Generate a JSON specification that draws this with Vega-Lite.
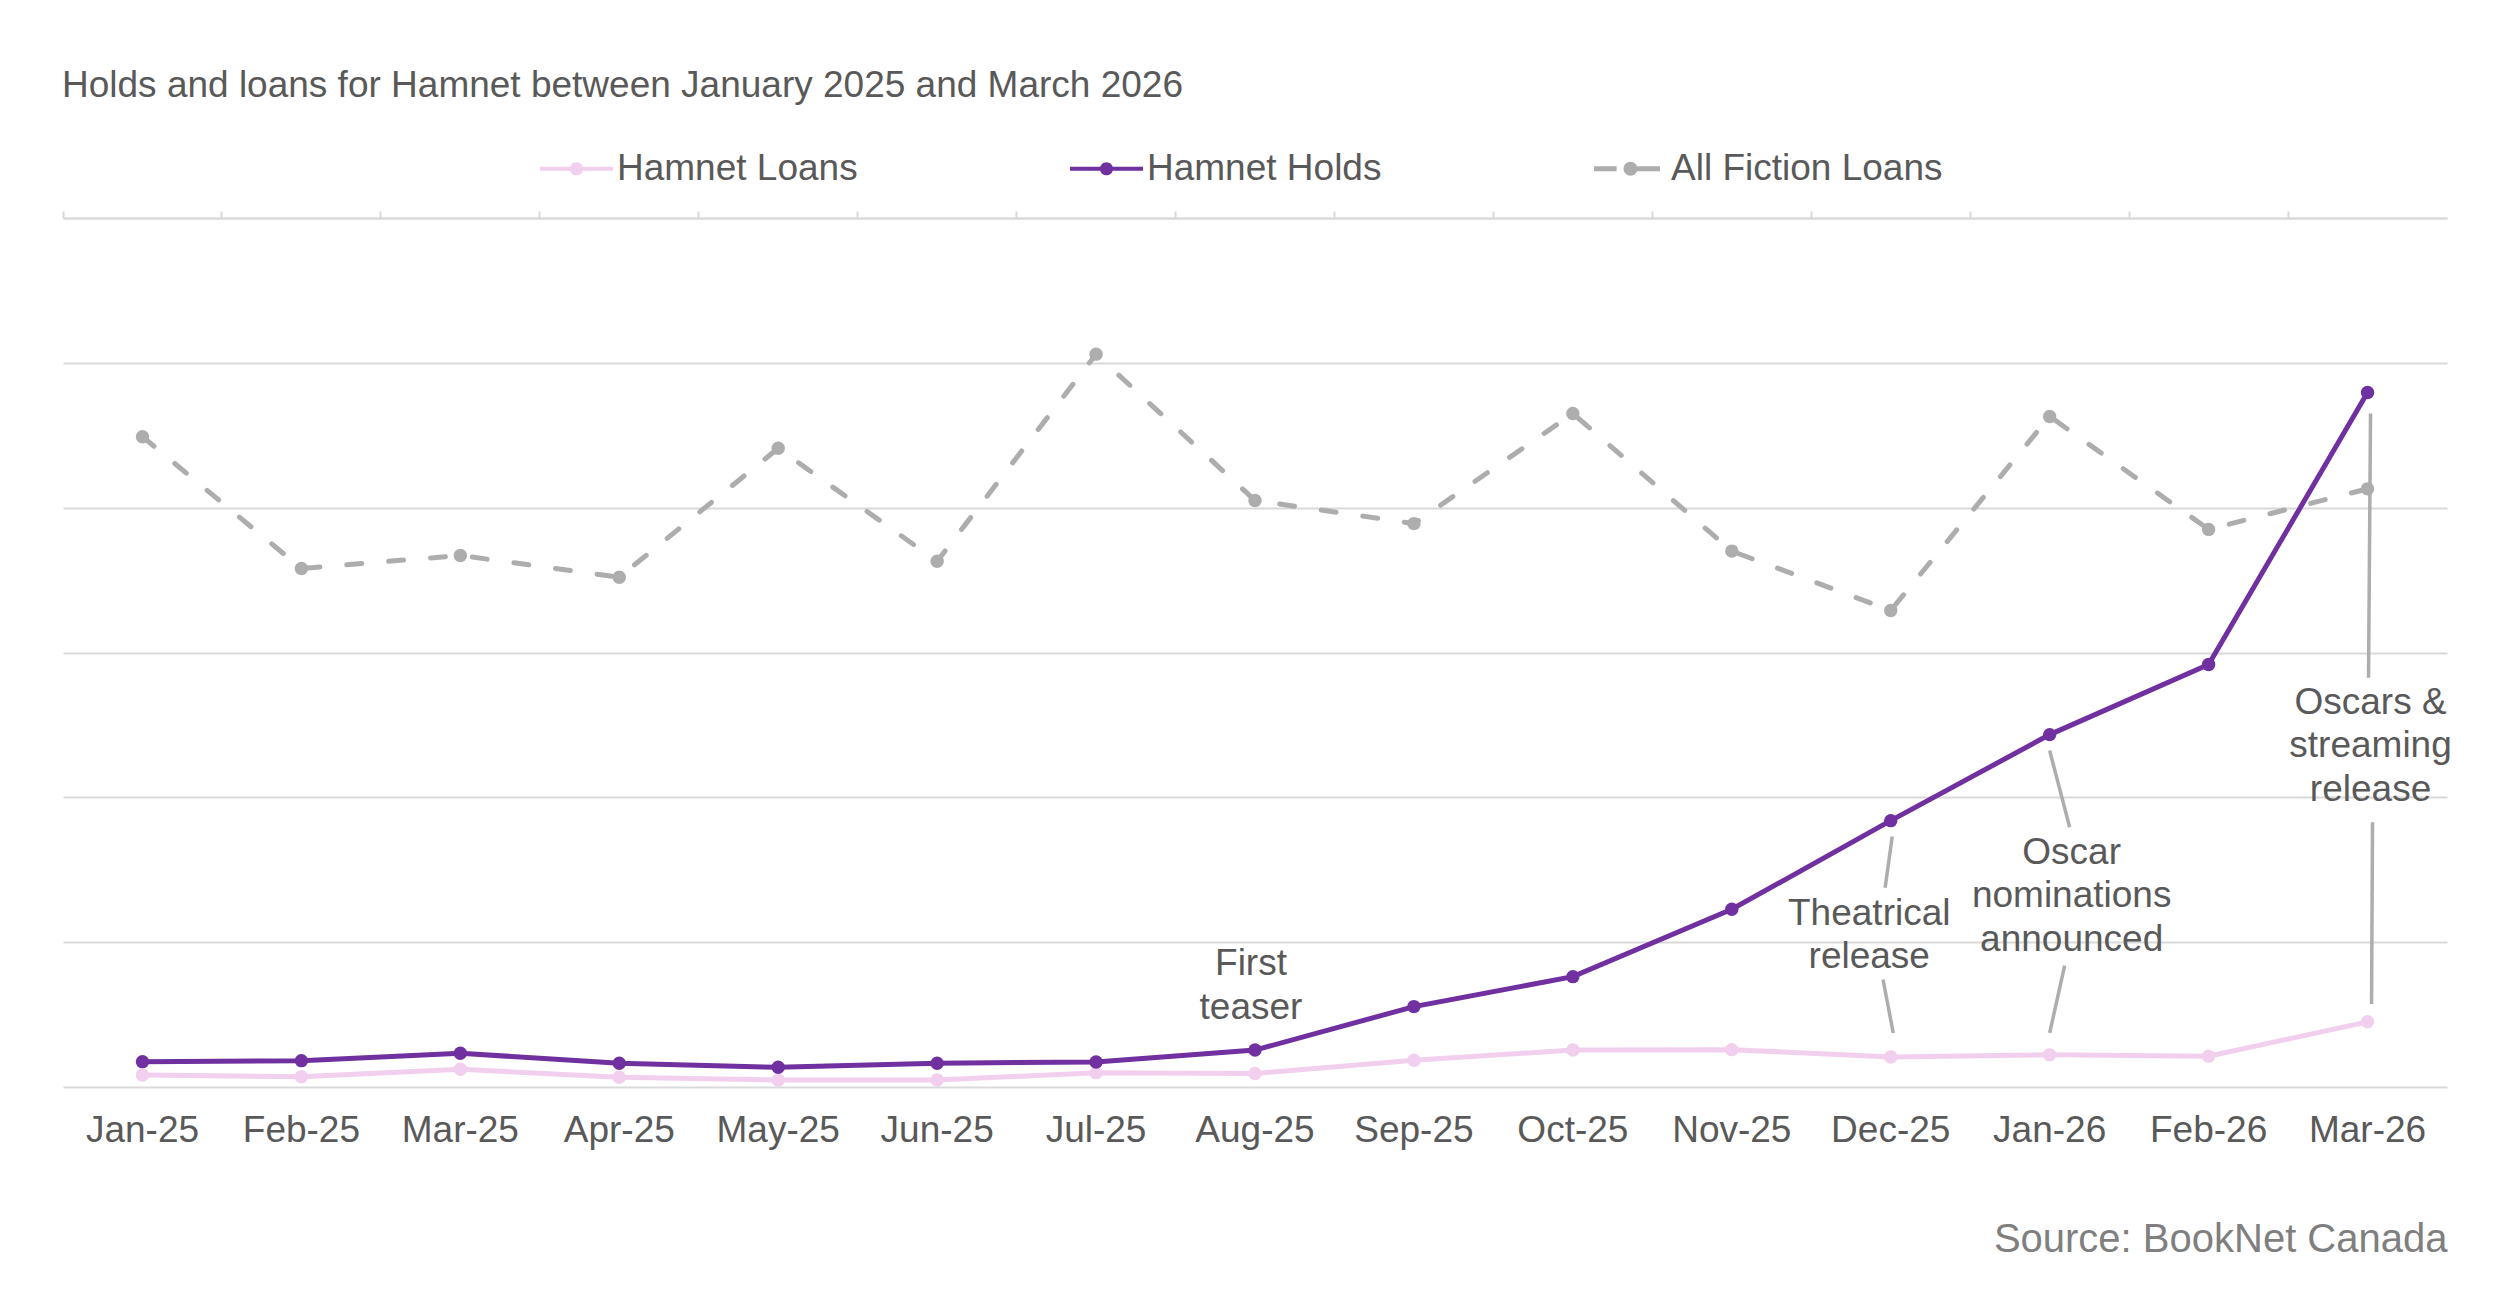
{
  "$schema": "https://vega.github.io/schema/vega-lite/v6.json",
  "width": 2384,
  "height": 869,
  "autosize": {"type": "none"},
  "padding": {"left": 63, "top": 218, "right": 53, "bottom": 206},
  "background": "white",
  "title": {
    "text": "Holds and loans for Hamnet between January 2025 and March 2026",
    "anchor": "start",
    "fontSize": 37,
    "fontWeight": "normal",
    "color": "#595959",
    "offset": 27
  },
  "config": {
    "font": "Liberation Sans",
    "view": {"stroke": null}
  },
  "datasets": {
    "monthly": [
      {"month": "Jan-25", "series": "All Fiction Loans", "value": 4.49},
      {"month": "Feb-25", "series": "All Fiction Loans", "value": 3.58},
      {"month": "Mar-25", "series": "All Fiction Loans", "value": 3.67},
      {"month": "Apr-25", "series": "All Fiction Loans", "value": 3.52},
      {"month": "May-25", "series": "All Fiction Loans", "value": 4.41},
      {"month": "Jun-25", "series": "All Fiction Loans", "value": 3.63},
      {"month": "Jul-25", "series": "All Fiction Loans", "value": 5.06},
      {"month": "Aug-25", "series": "All Fiction Loans", "value": 4.05},
      {"month": "Sep-25", "series": "All Fiction Loans", "value": 3.89},
      {"month": "Oct-25", "series": "All Fiction Loans", "value": 4.65},
      {"month": "Nov-25", "series": "All Fiction Loans", "value": 3.70},
      {"month": "Dec-25", "series": "All Fiction Loans", "value": 3.29},
      {"month": "Jan-26", "series": "All Fiction Loans", "value": 4.63},
      {"month": "Feb-26", "series": "All Fiction Loans", "value": 3.85},
      {"month": "Mar-26", "series": "All Fiction Loans", "value": 4.13},
      {"month": "Jan-25", "series": "Hamnet Loans", "value": 0.083},
      {"month": "Feb-25", "series": "Hamnet Loans", "value": 0.071},
      {"month": "Mar-25", "series": "Hamnet Loans", "value": 0.122},
      {"month": "Apr-25", "series": "Hamnet Loans", "value": 0.067},
      {"month": "May-25", "series": "Hamnet Loans", "value": 0.048},
      {"month": "Jun-25", "series": "Hamnet Loans", "value": 0.048},
      {"month": "Jul-25", "series": "Hamnet Loans", "value": 0.099},
      {"month": "Aug-25", "series": "Hamnet Loans", "value": 0.093},
      {"month": "Sep-25", "series": "Hamnet Loans", "value": 0.185},
      {"month": "Oct-25", "series": "Hamnet Loans", "value": 0.255},
      {"month": "Nov-25", "series": "Hamnet Loans", "value": 0.258},
      {"month": "Dec-25", "series": "Hamnet Loans", "value": 0.207},
      {"month": "Jan-26", "series": "Hamnet Loans", "value": 0.222},
      {"month": "Feb-26", "series": "Hamnet Loans", "value": 0.213},
      {"month": "Mar-26", "series": "Hamnet Loans", "value": 0.45},
      {"month": "Jan-25", "series": "Hamnet Holds", "value": 0.175},
      {"month": "Feb-25", "series": "Hamnet Holds", "value": 0.182},
      {"month": "Mar-25", "series": "Hamnet Holds", "value": 0.233},
      {"month": "Apr-25", "series": "Hamnet Holds", "value": 0.164},
      {"month": "May-25", "series": "Hamnet Holds", "value": 0.136},
      {"month": "Jun-25", "series": "Hamnet Holds", "value": 0.164},
      {"month": "Jul-25", "series": "Hamnet Holds", "value": 0.173},
      {"month": "Aug-25", "series": "Hamnet Holds", "value": 0.255},
      {"month": "Sep-25", "series": "Hamnet Holds", "value": 0.555},
      {"month": "Oct-25", "series": "Hamnet Holds", "value": 0.762},
      {"month": "Nov-25", "series": "Hamnet Holds", "value": 1.227},
      {"month": "Dec-25", "series": "Hamnet Holds", "value": 1.839},
      {"month": "Jan-26", "series": "Hamnet Holds", "value": 2.433},
      {"month": "Feb-26", "series": "Hamnet Holds", "value": 2.917},
      {"month": "Mar-26", "series": "Hamnet Holds", "value": 4.795}
    ]
  },
  "resolve": {"axis": {"x": "independent"}},
  "layer": [
    {
      "data": {"name": "monthly"},
      "transform": [{"filter": "datum.series === 'All Fiction Loans'"}],
      "mark": {"type": "line", "strokeWidth": 5, "strokeDash": [15, 27], "strokeCap": "round"},
      "encoding": {
        "x": {
          "field": "month",
          "type": "ordinal",
          "scale": {
            "type": "band",
            "paddingInner": 0,
            "paddingOuter": 0,
            "domain": ["Jan-25", "Feb-25", "Mar-25", "Apr-25", "May-25", "Jun-25", "Jul-25", "Aug-25", "Sep-25", "Oct-25", "Nov-25", "Dec-25", "Jan-26", "Feb-26", "Mar-26"]
          },
          "axis": {
            "orient": "bottom",
            "domain": false,
            "ticks": false,
            "tickSize": 0,
            "grid": false,
            "labelAngle": 0,
            "labelPadding": 25,
            "labelFontSize": 37,
            "labelColor": "#595959",
            "title": "Source: BookNet Canada",
            "titleFontSize": 40,
            "titleFontWeight": "normal",
            "titleColor": "#7F7F7F",
            "titleAnchor": "end",
            "titlePadding": 71
          }
        },
        "y": {
          "field": "value",
          "type": "quantitative",
          "scale": {"domain": [0, 6], "nice": false},
          "axis": {
            "title": null,
            "values": [0, 1, 2, 3, 4, 5, 6],
            "grid": true,
            "gridColor": "#D9D9D9",
            "gridWidth": 2,
            "labels": false,
            "ticks": false,
            "domain": false
          }
        },
        "color": {
          "field": "series",
          "type": "nominal",
          "scale": {
            "domain": ["Hamnet Loans", "Hamnet Holds", "All Fiction Loans"],
            "range": ["#F2CFEE", "#7030A0", "#ADADAD"]
          },
          "legend": {
            "title": null,
            "orient": "none",
            "direction": "horizontal",
            "legendX": 477,
            "legendY": -86,
            "padding": 0,
            "symbolSize": 5329,
            "symbolStrokeWidth": 0,
            "labelFontSize": 37,
            "labelColor": "#595959",
            "labelOffset": 4,
            "labelLimit": 600,
            "columnPadding": 212,
            "encode": {
              "symbols": {
                "update": {
                  "shape": {"signal": "datum.value === 'All Fiction Loans' ? 'M-1,-0.068L-0.38,-0.068L-0.38,0.068L-1,0.068Z M0.18,-0.068L0.81,-0.068L0.81,0.068L0.18,0.068Z M-0.19,0A0.19,0.19 0 1,1 0.19,0A0.19,0.19 0 1,1 -0.19,0Z' : 'M-1,-0.058L1,-0.058L1,0.058L-1,0.058Z M-0.18,0A0.18,0.18 0 1,1 0.18,0A0.18,0.18 0 1,1 -0.18,0Z'"},
                  "fill": {"scale": "color", "field": "value"},
                  "strokeWidth": {"value": 0}
                }
              }
            }
          }
        }
      }
    },
    {
      "data": {"name": "monthly"},
      "transform": [{"filter": "datum.series !== 'All Fiction Loans'"}],
      "mark": {"type": "line", "strokeWidth": 5},
      "encoding": {
        "x": {
          "field": "month",
          "type": "ordinal",
          "axis": {
            "orient": "top",
            "labels": false,
            "grid": false,
            "title": null,
            "domain": true,
            "domainColor": "#D9D9D9",
            "domainWidth": 2,
            "ticks": true,
            "tickSize": 7,
            "tickColor": "#D9D9D9",
            "tickWidth": 2,
            "bandPosition": 0
          }
        },
        "y": {"field": "value", "type": "quantitative"},
        "color": {"field": "series", "type": "nominal", "legend": null}
      }
    },
    {
      "data": {"values": [{"month": "Dec-25", "from": 1.729, "to": 1.376}]},
      "mark": {"type": "rule", "color": "#ADADAD", "strokeWidth": 3.5, "xOffset": 1.5, "x2Offset": -5.6},
      "encoding": {
        "x": {"field": "month", "type": "ordinal", "axis": null},
        "x2": {"field": "month"},
        "y": {"field": "from", "type": "quantitative"},
        "y2": {"field": "to"}
      }
    },
    {
      "data": {"values": [{"month": "Dec-25", "from": 0.742, "to": 0.373}]},
      "mark": {"type": "rule", "color": "#ADADAD", "strokeWidth": 3.5, "xOffset": -7.7, "x2Offset": 2.5},
      "encoding": {
        "x": {"field": "month", "type": "ordinal", "axis": null},
        "x2": {"field": "month"},
        "y": {"field": "from", "type": "quantitative"},
        "y2": {"field": "to"}
      }
    },
    {
      "data": {"values": [{"month": "Jan-26", "from": 2.323, "to": 1.793}]},
      "mark": {"type": "rule", "color": "#ADADAD", "strokeWidth": 3.5, "xOffset": 0, "x2Offset": 20},
      "encoding": {
        "x": {"field": "month", "type": "ordinal", "axis": null},
        "x2": {"field": "month"},
        "y": {"field": "from", "type": "quantitative"},
        "y2": {"field": "to"}
      }
    },
    {
      "data": {"values": [{"month": "Jan-26", "from": 0.838, "to": 0.373}]},
      "mark": {"type": "rule", "color": "#ADADAD", "strokeWidth": 3.5, "xOffset": 15, "x2Offset": 0},
      "encoding": {
        "x": {"field": "month", "type": "ordinal", "axis": null},
        "x2": {"field": "month"},
        "y": {"field": "from", "type": "quantitative"},
        "y2": {"field": "to"}
      }
    },
    {
      "data": {"values": [{"month": "Mar-26", "from": 4.65, "to": 2.825}]},
      "mark": {"type": "rule", "color": "#ADADAD", "strokeWidth": 3.5, "xOffset": 3, "x2Offset": 1},
      "encoding": {
        "x": {"field": "month", "type": "ordinal", "axis": null},
        "x2": {"field": "month"},
        "y": {"field": "from", "type": "quantitative"},
        "y2": {"field": "to"}
      }
    },
    {
      "data": {"values": [{"month": "Mar-26", "from": 1.828, "to": 0.573}]},
      "mark": {"type": "rule", "color": "#ADADAD", "strokeWidth": 3.5, "xOffset": 5, "x2Offset": 4},
      "encoding": {
        "x": {"field": "month", "type": "ordinal", "axis": null},
        "x2": {"field": "month"},
        "y": {"field": "from", "type": "quantitative"},
        "y2": {"field": "to"}
      }
    },
    {
      "data": {"name": "monthly"},
      "mark": {"type": "circle", "size": 180, "opacity": 1},
      "encoding": {
        "x": {"field": "month", "type": "ordinal", "axis": null},
        "y": {"field": "value", "type": "quantitative"},
        "color": {"field": "series", "type": "nominal", "legend": null}
      }
    },
    {
      "data": {"values": [{"month": "Aug-25", "at": 0.849, "note": ["First", "teaser"]}]},
      "mark": {"type": "text", "fontSize": 37, "color": "#595959", "align": "center", "baseline": "middle", "lineHeight": 43.5, "dx": -4},
      "encoding": {
        "x": {"field": "month", "type": "ordinal", "axis": null},
        "y": {"field": "at", "type": "quantitative"},
        "text": {"field": "note"}
      }
    },
    {
      "data": {"values": [{"month": "Dec-25", "at": 1.195, "note": ["Theatrical", "release"]}]},
      "mark": {"type": "text", "fontSize": 37, "color": "#595959", "align": "center", "baseline": "middle", "lineHeight": 43.5, "dx": -21.5},
      "encoding": {
        "x": {"field": "month", "type": "ordinal", "axis": null},
        "y": {"field": "at", "type": "quantitative"},
        "text": {"field": "note"}
      }
    },
    {
      "data": {"values": [{"month": "Jan-26", "at": 1.616, "note": ["Oscar", "nominations", "announced"]}]},
      "mark": {"type": "text", "fontSize": 37, "color": "#595959", "align": "center", "baseline": "middle", "lineHeight": 43.5, "dx": 22},
      "encoding": {
        "x": {"field": "month", "type": "ordinal", "axis": null},
        "y": {"field": "at", "type": "quantitative"},
        "text": {"field": "note"}
      }
    },
    {
      "data": {"values": [{"month": "Mar-26", "at": 2.652, "note": ["Oscars &", "streaming", "release"]}]},
      "mark": {"type": "text", "fontSize": 37, "color": "#595959", "align": "center", "baseline": "middle", "lineHeight": 43.5, "dx": 3},
      "encoding": {
        "x": {"field": "month", "type": "ordinal", "axis": null},
        "y": {"field": "at", "type": "quantitative"},
        "text": {"field": "note"}
      }
    }
  ]
}
